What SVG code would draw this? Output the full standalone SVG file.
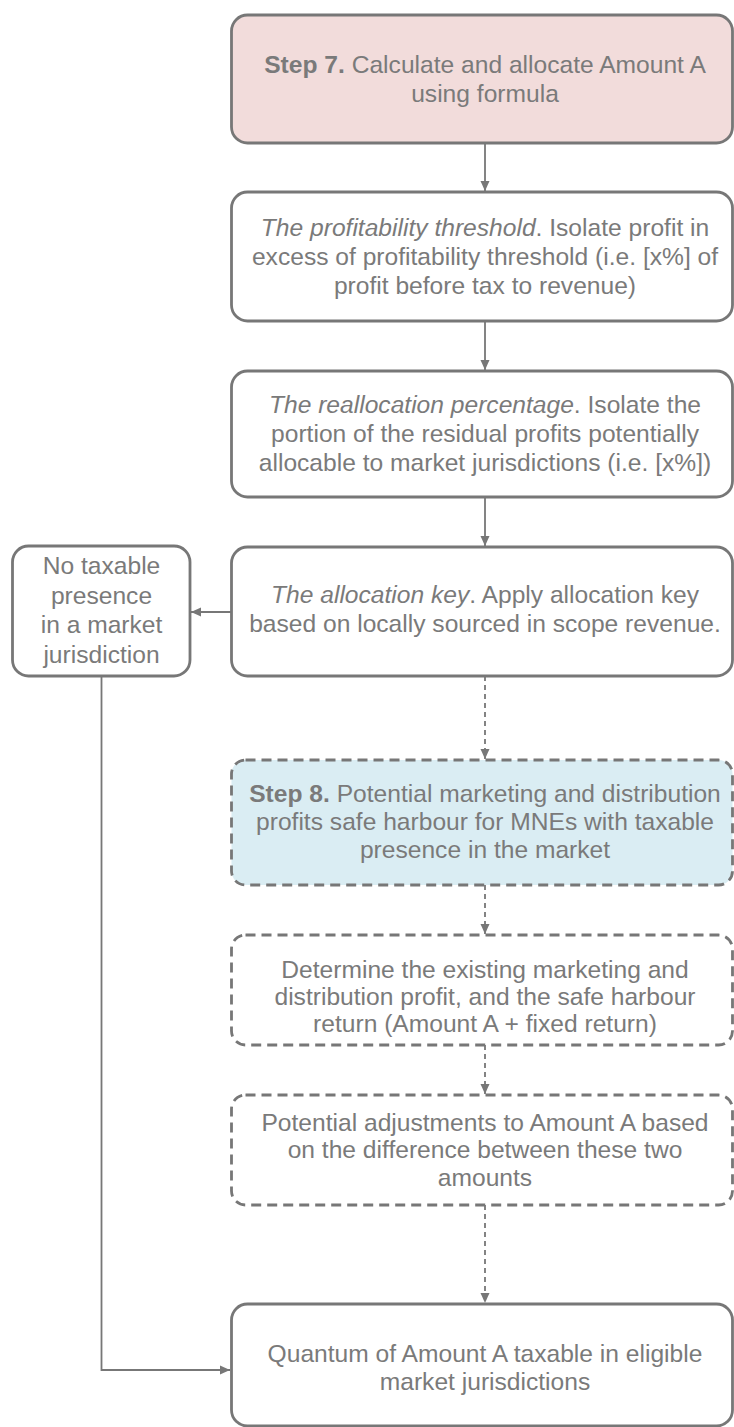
<svg xmlns="http://www.w3.org/2000/svg" width="734" height="1427" viewBox="0 0 734 1427">
<style>
  .box { fill: #ffffff; stroke: #777777; stroke-width: 2.8; }
  .pink { fill: #f2dcdb; }
  .blue { fill: #daedf3; }
  .dash { stroke-dasharray: 10 6; }
  .t { font-family: "Liberation Sans", Arial, sans-serif; font-size: 24.6px; fill: #7a7a7a; text-anchor: middle; }
  .b { font-weight: bold; }
  .i { font-style: italic; }
  .con { fill: none; stroke: #777777; stroke-width: 1.8; }
  .cd { stroke-dasharray: 5 4; }
</style>
<defs>
  <marker id="ah" markerUnits="userSpaceOnUse" markerWidth="11" markerHeight="10" refX="10" refY="5" orient="auto">
    <path d="M0,0.5 L10,5 L0,9.5 z" fill="#777777"/>
  </marker>
</defs>

<g id="connectors">
  <line class="con" x1="485" y1="143" x2="485" y2="191" marker-end="url(#ah)"/>
  <line class="con" x1="485" y1="321" x2="485" y2="370" marker-end="url(#ah)"/>
  <line class="con" x1="485" y1="497" x2="485" y2="546" marker-end="url(#ah)"/>
  <line class="con" x1="231" y1="612" x2="191" y2="612" marker-end="url(#ah)"/>
  <line class="con cd" x1="485" y1="676" x2="485" y2="759" marker-end="url(#ah)"/>
  <line class="con cd" x1="485" y1="885" x2="485" y2="934" marker-end="url(#ah)"/>
  <line class="con cd" x1="485" y1="1045" x2="485" y2="1094" marker-end="url(#ah)"/>
  <line class="con cd" x1="485" y1="1205" x2="485" y2="1303" marker-end="url(#ah)"/>
  <polyline class="con" points="101.5,676 101.5,1370 230,1370" marker-end="url(#ah)"/>
</g>

<g id="step7">
  <rect class="box pink" x="231.5" y="15" width="501" height="128" rx="16"/>
  <text class="t" x="485" y="73"><tspan class="b">Step 7.</tspan> Calculate and allocate Amount A</text>
  <text class="t" x="485" y="102">using formula</text>
</g>

<g id="threshold">
  <rect class="box" x="231.5" y="192" width="501" height="129" rx="16"/>
  <text class="t" x="485" y="236"><tspan class="i">The profitability threshold</tspan>. Isolate profit in</text>
  <text class="t" x="485" y="265">excess of profitability threshold (i.e. [x%] of</text>
  <text class="t" x="485" y="294">profit before tax to revenue)</text>
</g>

<g id="reallocation">
  <rect class="box" x="231.5" y="371" width="501" height="126" rx="16"/>
  <text class="t" x="485" y="413"><tspan class="i">The reallocation percentage</tspan>. Isolate the</text>
  <text class="t" x="485" y="442">portion of the residual profits potentially</text>
  <text class="t" x="485" y="471">allocable to market jurisdictions (i.e. [x%])</text>
</g>

<g id="allocation-key">
  <rect class="box" x="231.5" y="547" width="501" height="129" rx="16"/>
  <text class="t" x="485" y="603"><tspan class="i">The allocation key</tspan>. Apply allocation key</text>
  <text class="t" x="485" y="632">based on locally sourced in scope revenue.</text>
</g>

<g id="no-taxable">
  <rect class="box" x="12.5" y="546" width="177.5" height="130" rx="16"/>
  <text class="t" x="101.5" y="574">No taxable</text>
  <text class="t" x="101.5" y="603.5">presence</text>
  <text class="t" x="101.5" y="633">in a market</text>
  <text class="t" x="101.5" y="662.5">jurisdiction</text>
</g>

<g id="step8">
  <rect class="box blue dash" x="231.5" y="760" width="501" height="125" rx="14"/>
  <text class="t" x="485" y="802"><tspan class="b">Step 8.</tspan> Potential marketing and distribution</text>
  <text class="t" x="485" y="830">profits safe harbour for MNEs with taxable</text>
  <text class="t" x="485" y="858">presence in the market</text>
</g>

<g id="determine">
  <rect class="box dash" x="231.5" y="935" width="501" height="110" rx="14"/>
  <text class="t" x="485" y="978">Determine the existing marketing and</text>
  <text class="t" x="485" y="1005">distribution profit, and the safe harbour</text>
  <text class="t" x="485" y="1032">return (Amount A + fixed return)</text>
</g>

<g id="adjustments">
  <rect class="box dash" x="231.5" y="1095" width="501" height="110" rx="14"/>
  <text class="t" x="485" y="1131">Potential adjustments to Amount A based</text>
  <text class="t" x="485" y="1158">on the difference between these two</text>
  <text class="t" x="485" y="1186">amounts</text>
</g>

<g id="quantum">
  <rect class="box" x="231.5" y="1304" width="501" height="122" rx="16"/>
  <text class="t" x="485" y="1362">Quantum of Amount A taxable in eligible</text>
  <text class="t" x="485" y="1390">market jurisdictions</text>
</g>
</svg>
